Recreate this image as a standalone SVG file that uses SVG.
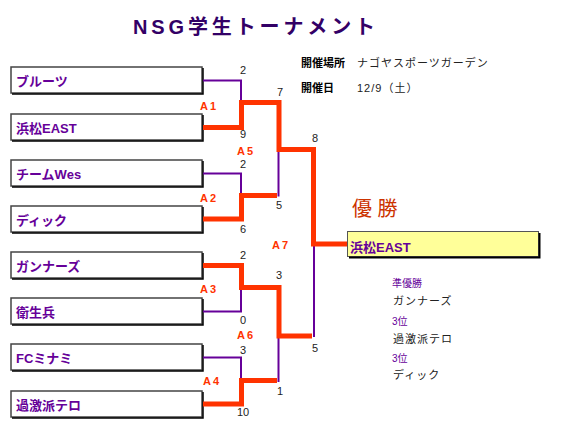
<svg xmlns="http://www.w3.org/2000/svg" width="567" height="426" viewBox="0 0 567 426">
<style>
text{font-family:"Liberation Sans","Noto Sans CJK JP",sans-serif}
.box{fill:#fff;stroke:#444;stroke-width:1.5}
.shadow{fill:none;stroke:#000;stroke-width:1.5}
.team{font-size:13px;font-weight:bold;fill:#660099}
.num{font-size:11px;fill:#222}
.mid{font-size:11px;font-weight:bold;fill:#ff3300;letter-spacing:2px}
.lose{fill:none;stroke:#660099;stroke-width:2}
.win{fill:none;stroke:#ff3300;stroke-width:5;stroke-linejoin:miter}
.info{font-size:11px;fill:#222;letter-spacing:1px}
.infob{font-size:11px;font-weight:bold;fill:#000}
.rank{font-size:10px;fill:#660099}
</style>
<rect width="567" height="426" fill="#fff"/>
<text x="254" y="34" text-anchor="middle" font-size="20" font-weight="bold" fill="#330066" textLength="242" lengthAdjust="spacing">NSG学生トーナメント</text>
<g id="info">
<text class="infob" x="301" y="67">開催場所</text>
<text class="info" x="357" y="67">ナゴヤスポーツガーデン</text>
<text class="infob" x="301" y="92">開催日</text>
<text class="info" x="357" y="92">12/9（土）</text>
</g>
<g id="team1"><rect class="box" x="11" y="67" width="191" height="26"/><path class="shadow" d="M12,94 H203 V68"/><text class="team" x="16" y="86">ブルーツ</text></g>
<g id="team2"><rect class="box" x="11" y="114" width="191" height="26"/><path class="shadow" d="M12,141 H203 V115"/><text class="team" x="16" y="133">浜松EAST</text></g>
<g id="team3"><rect class="box" x="11" y="160" width="191" height="26"/><path class="shadow" d="M12,187 H203 V161"/><text class="team" x="16" y="179">チームWes</text></g>
<g id="team4"><rect class="box" x="11" y="206" width="191" height="26"/><path class="shadow" d="M12,233 H203 V207"/><text class="team" x="16" y="225">ディック</text></g>
<g id="team5"><rect class="box" x="11" y="252" width="191" height="26"/><path class="shadow" d="M12,279 H203 V253"/><text class="team" x="16" y="271">ガンナーズ</text></g>
<g id="team6"><rect class="box" x="11" y="298" width="191" height="26"/><path class="shadow" d="M12,325 H203 V299"/><text class="team" x="16" y="317">衛生兵</text></g>
<g id="team7"><rect class="box" x="11" y="344" width="191" height="26"/><path class="shadow" d="M12,371 H203 V345"/><text class="team" x="16" y="363">FCミナミ</text></g>
<g id="team8"><rect class="box" x="11" y="391" width="191" height="26"/><path class="shadow" d="M12,418 H203 V392"/><text class="team" x="16" y="410">過激派テロ</text></g>
<g id="connectors">
<path class="lose" d="M203,80.5 H241 V102"/>
<path class="lose" d="M203,173.5 H241 V196"/>
<path class="lose" d="M278.5,196.5 V150"/>
<path class="lose" d="M203,311.5 H241 V288"/>
<path class="lose" d="M203,357.5 H241 V380"/>
<path class="lose" d="M278.5,382 V336"/>
<path class="lose" d="M314,246 V337"/>
<path class="win" d="M203,127.5 H241.5 V102.5 H279 V149.5 H313.5 V244 H348"/>
<path class="win" d="M203,219 H241.5 V195.5 H277"/>
<path class="win" d="M203,265.5 H241.5 V287.5 H279 V336 H312"/>
<path class="win" d="M203,404 H241.5 V380.5 H277"/>
</g>
<g id="scores">
<text class="num" x="240" y="74">2</text>
<text class="num" x="240" y="138">9</text>
<text class="num" x="277" y="96">7</text>
<text class="num" x="312" y="142">8</text>
<text class="num" x="240" y="168">2</text>
<text class="num" x="240" y="233">6</text>
<text class="num" x="276" y="209">5</text>
<text class="num" x="240" y="259">2</text>
<text class="num" x="240" y="324">0</text>
<text class="num" x="276" y="279">3</text>
<text class="num" x="312" y="352">5</text>
<text class="num" x="240" y="354">3</text>
<text class="num" x="237" y="416">10</text>
<text class="num" x="277" y="395">1</text>
</g>
<g id="matches">
<text class="mid" x="200" y="110">A1</text>
<text class="mid" x="237" y="155">A5</text>
<text class="mid" x="200" y="202">A2</text>
<text class="mid" x="272" y="249">A7</text>
<text class="mid" x="200" y="293">A3</text>
<text class="mid" x="237" y="339">A6</text>
<text class="mid" x="203" y="385">A4</text>
</g>
<g id="champion">
<text x="352" y="216" font-size="20" fill="#cc3300">優 勝</text>
<rect x="347.5" y="231.5" width="191" height="25" fill="#ffff99" stroke="#555" stroke-width="1"/>
<path d="M349,257.5 H539.5 V233" fill="none" stroke="#000" stroke-width="2"/>
<text class="team" x="350" y="252">浜松EAST</text>
</g>
<g id="results">
<text class="rank" x="392" y="287">準優勝</text>
<text class="info" x="393" y="305">ガンナーズ</text>
<text class="rank" x="392" y="325">3位</text>
<text class="info" x="393" y="343">過激派テロ</text>
<text class="rank" x="392" y="362">3位</text>
<text class="info" x="393" y="379">ディック</text>
</g>
</svg>
